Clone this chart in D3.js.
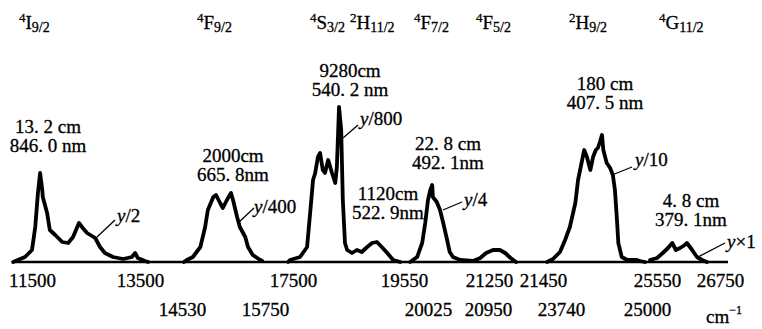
<!DOCTYPE html>
<head>
    <meta charset="UTF-8">
    <script src="https://cdnjs.cloudflare.com/ajax/libs/d3/7.8.5/d3.min.js"></script>
    <style>
        body { margin: 0; background: #fff; }
    </style>
</head>
<body>
    <svg id="chart"></svg>

    <script>
        //********** DATOS *********************

        // wavenumber (cm-1), relative intensity as drawn
        var band1 = [[11150,0],[11370,5],[11500,12],[11560,35],[11610,69],[11650,89],[11690,72],[11700,65],
            [11780,49],[11830,32],[11930,27],[12060,20],[12170,19],[12260,25],[12330,34],[12370,39],
            [12440,34],[12520,29],[12670,24],[12760,15],[12850,9],[13000,5],[13190,3],[13350,5],
            [13410,9],[13460,4],[13620,1],[13700,0]];

        var band2 = [[14560,0],[14600,2],[14690,5],[14800,15],[14870,35],[14910,52],[14990,65],[15030,67],
            [15090,59],[15130,54],[15190,62],[15250,69],[15280,62],[15340,45],[15380,35],[15460,25],
            [15500,15],[15570,7],[15680,2],[15710,1]];

        var band3 = [[17190,0],[17310,2],[17630,5],[17760,15],[17810,45],[17870,82],[17910,89],[17960,105],
            [18000,109],[18050,92],[18090,89],[18150,102],[18220,89],[18280,79],[18310,95],[18350,155],
            [18390,132],[18420,62],[18460,19],[18500,12],[18590,9],[18680,12],[18770,10],[18870,15],
            [18960,19],[19050,20],[19140,15],[19240,9],[19350,2],[19480,0]];

        var band4 = [[19670,0],[19810,5],[19910,19],[19970,39],[20025,62],[20060,72],[20090,77],[20100,65],
            [20160,60],[20210,52],[20260,39],[20320,22],[20360,10],[20410,5],[20520,2],[20720,1]];

        var band5 = [[20720,1],[20830,4],[20920,9],[21265,12],[21290,12],[21310,9],[21330,4],[21350,0]];

        var band6 = [[21960,0],[22720,3],[23610,10],[23800,22],[23870,35],[23950,59],[23990,82],[24050,102],
            [24080,112],[24120,105],[24170,92],[24210,105],[24250,112],[24280,114],[24310,120],[24340,127],
            [24360,112],[24410,99],[24460,94],[24500,87],[24530,72],[24560,42],[24580,19],[24630,5],
            [24710,2],[24850,2],[24900,1],[24970,0]];

        var band7 = [[25170,2],[25550,4],[25660,9],[25760,14],[25840,19],[25910,12],[25990,14],[26080,17],
            [26120,19],[26220,12],[26310,5],[26410,2],[26500,0]];

        var bands = [band1, band2, band3, band4, band5, band6, band7];

        var tickValues = [11500, 13500, 14530, 15750, 17500, 19550, 20025, 20950, 21250, 21450, 23740, 25000, 25550, 26750];
        var topTicks = [11500, 13500, 17500, 19550, 21250, 21450, 25550, 26750];
        var bottomTicks = [14530, 15750, 20025, 20950, 23740, 25000];

        var levels = [
            ["4", "I", "9/2"], ["4", "F", "9/2"], ["4", "S", "3/2"], ["2", "H", "11/2"],
            ["4", "F", "7/2"], ["4", "F", "5/2"], ["2", "H", "9/2"], ["4", "G", "11/2"]];

        var peakLabels = [
            ["13. 2 cm", "846. 0 nm"], ["2000cm", "665. 8nm"], ["9280cm", "540. 2 nm"], ["1120cm", "522. 9nm"],
            ["22. 8 cm", "492. 1nm"], ["180 cm", "407. 5 nm"], ["4. 8 cm", "379. 1nm"]];

        var gains = [["/", "2"], ["/", "400"], ["/", "800"], ["/", "4"], ["/", "10"], ["×", "1"]];

        //********** LAYOUT *********************

        var width = 762, height = 329;
        var baseY = 262;
        var serif = "Liberation Serif";
        var tickPos = [32, 140, 182, 265, 293, 404, 428, 488, 489, 543, 561, 647, 657, 720];
        var levelX = [19, 197, 310, 350, 414, 476, 569, 659];
        var peakPos = [[48, 133], [233, 162], [350, 77], [388, 200], [448, 150], [605, 90], [691, 207]];
        // leader line [x1,y1,x2,y2], text start x, text baseline
        var gainPos = [
            [97, 237, 115, 220, 117, 222], [238, 223, 254, 208, 254, 213], [343, 138, 358, 125, 360, 125],
            [443, 210, 462, 202, 464, 206], [612, 175, 632, 167, 635, 166], [698, 257, 725, 243, 727, 248]];

        var x = d3.scaleLinear().domain(tickValues).range(tickPos);
        var y = d3.scaleLinear().domain([0, 200]).range([baseY, baseY - 200]);

        var svg = d3.select("#chart")
            .attr("width", width)
            .attr("height", height)
            .attr("font-family", serif);

        function addText(sel) {
            return sel.append("text")
                .attr("font-family", serif)
                .attr("font-size", 19)
                .attr("fill", "#000")
                .attr("stroke", "#000")
                .attr("stroke-width", 0.3);
        }

        //********** CURVAS *********************

        var line = d3.line()
            .x(function (d) { return x(d[0]); })
            .y(function (d) { return y(d[1]); });

        svg.append("line")
            .attr("x1", 13).attr("x2", 728)
            .attr("y1", baseY).attr("y2", baseY)
            .style("stroke", "#000")
            .style("stroke-width", 2.6);

        svg.append("g").selectAll("path")
            .data(bands)
            .enter()
            .append("path")
            .attr("d", line)
            .style("fill", "none")
            .style("stroke", "#000")
            .style("stroke-width", 3.8)
            .style("stroke-linejoin", "round")
            .style("stroke-linecap", "round");

        //********** EJES *********************

        var axisTop = svg.append("g")
            .attr("transform", "translate(0," + baseY + ")")
            .call(d3.axisBottom(x).tickValues(topTicks).tickSize(0).tickFormat(d3.format("d")));

        var axisBottom = svg.append("g")
            .attr("transform", "translate(0," + baseY + ")")
            .call(d3.axisBottom(x).tickValues(bottomTicks).tickSize(0).tickFormat(d3.format("d")));

        [axisTop, axisBottom].forEach(function (g, i) {
            g.attr("font-family", serif).attr("font-size", 19);
            g.select(".domain").remove();
            g.selectAll("text")
                .attr("y", i === 0 ? 25 : 54)
                .attr("dy", 0)
                .attr("font-family", serif)
                .attr("font-size", 19)
                .attr("fill", "#000")
                .attr("stroke", "#000")
                .attr("stroke-width", 0.3);
        });

        var unit = addText(svg).attr("x", 706).attr("y", 323);
        unit.append("tspan").text("cm");
        unit.append("tspan").attr("dy", -9).attr("font-size", 12).text("−1");

        //********** ETIQUETAS *********************

        levels.forEach(function (d, i) {
            var t = addText(svg).attr("x", levelX[i]).attr("y", 29);
            t.append("tspan").attr("dy", -7).attr("font-size", 13).text(d[0]);
            t.append("tspan").attr("dy", 7).text(d[1]);
            t.append("tspan").attr("dy", 3).attr("font-size", 14).text(d[2]);
        });

        peakLabels.forEach(function (d, i) {
            var p = peakPos[i];
            addText(svg).attr("x", p[0]).attr("y", p[1])
                .attr("text-anchor", "middle").text(d[0]);
            addText(svg).attr("x", p[0]).attr("y", p[1] + 19)
                .attr("text-anchor", "middle").text(d[1]);
        });

        gains.forEach(function (d, i) {
            var p = gainPos[i];
            svg.append("line")
                .attr("x1", p[0]).attr("y1", p[1]).attr("x2", p[2]).attr("y2", p[3])
                .style("stroke", "#000").style("stroke-width", 1.3);
            var t = addText(svg).attr("x", p[4]).attr("y", p[5]);
            t.append("tspan").attr("font-style", "italic").text("y");
            t.append("tspan").text(d[0] + d[1]);
        });
    </script>
</body>
